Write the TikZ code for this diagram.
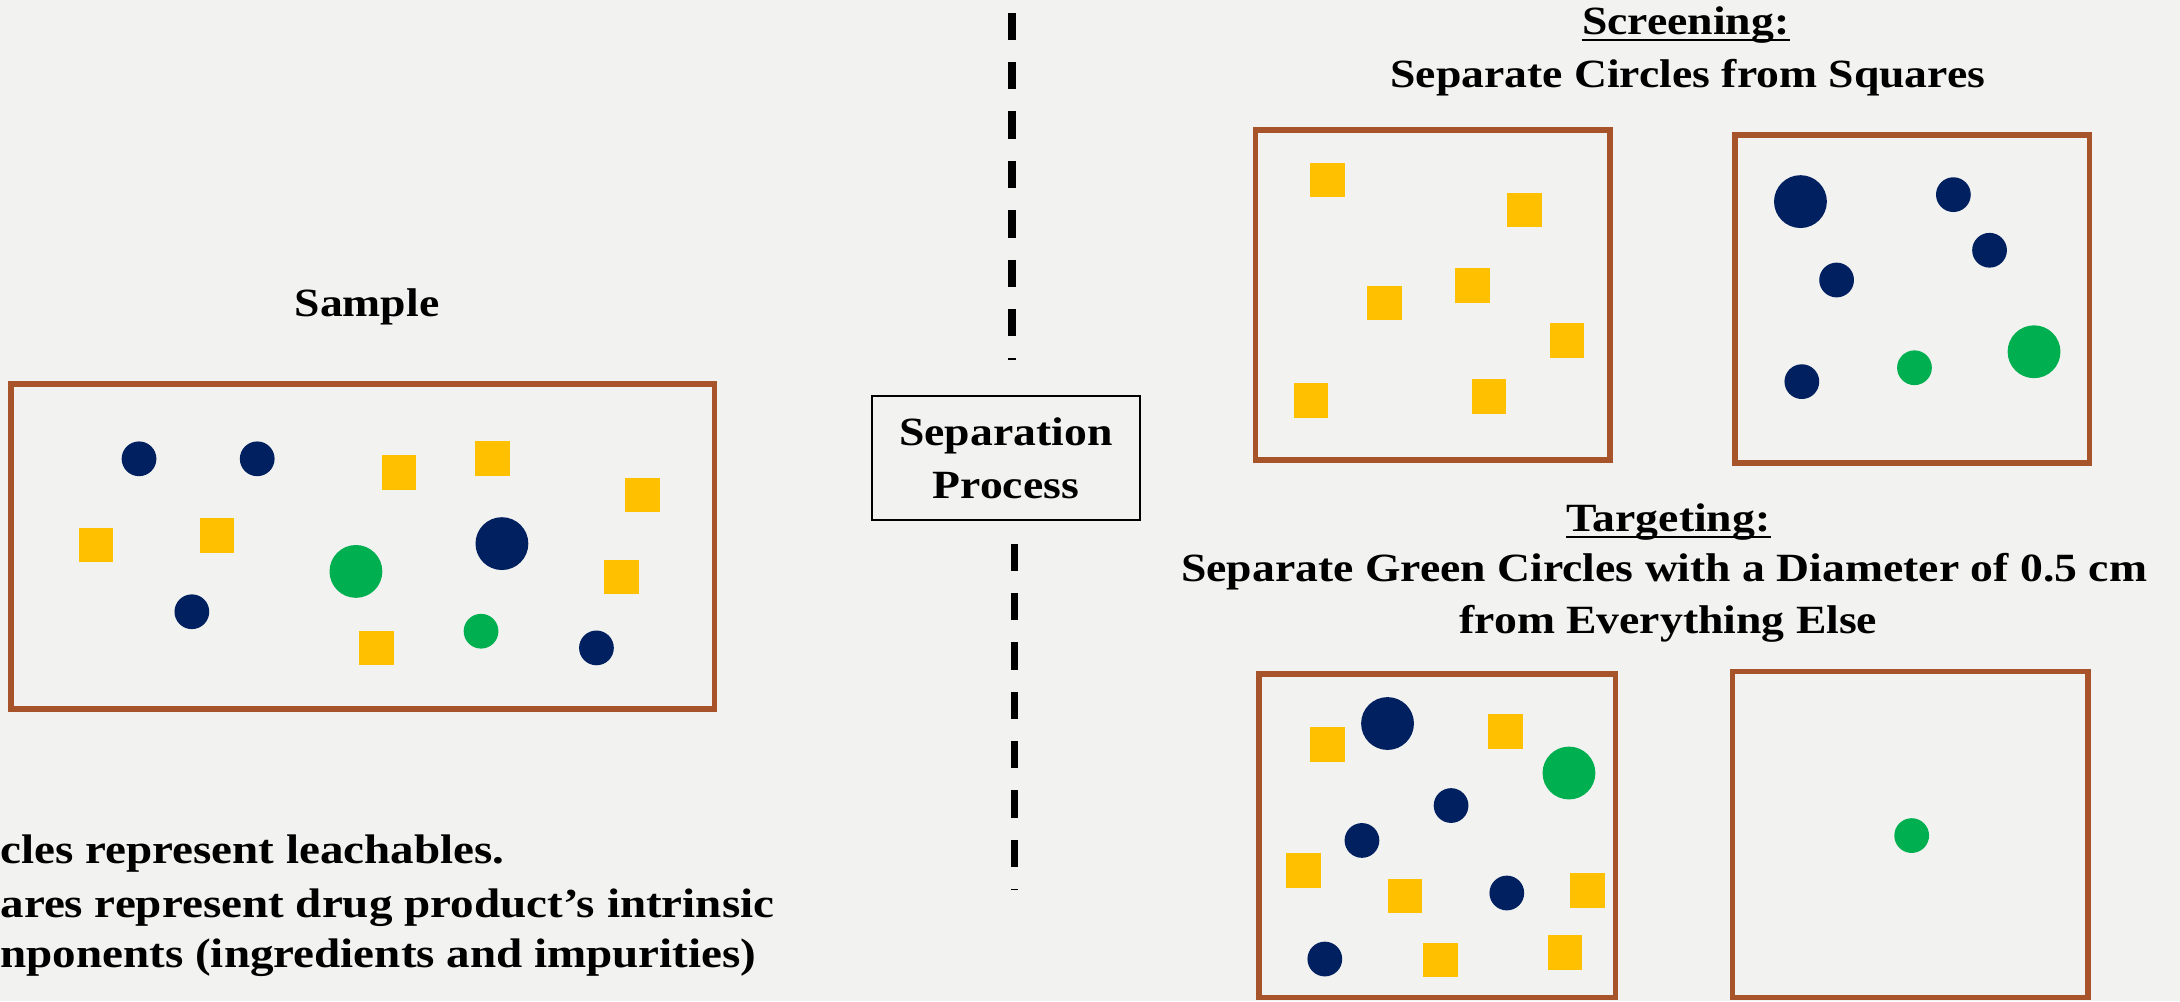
\documentclass[tikz,border=0pt]{standalone}
\usepackage{fontspec}
\setmainfont{Liberation Serif}[FakeStretch=1.14]
\definecolor{paper}{RGB}{242,242,240}
\definecolor{navyc}{RGB}{0,32,96}
\definecolor{greenc}{RGB}{0,176,80}
\definecolor{goldc}{RGB}{255,192,0}
\definecolor{brownc}{RGB}{168,84,42}
\newcommand\ysq[2]{\fill[goldc] (#1,#2) ++(-12.5,-12.5) rectangle ++(25,25);}
\newcommand\nsm[2]{\fill[navyc] (#1,#2) circle (12.5);}
\newcommand\nbg[2]{\fill[navyc] (#1,#2) circle (19);}
\newcommand\gsm[2]{\fill[greenc] (#1,#2) circle (12.5);}
\newcommand\gbg[2]{\fill[greenc] (#1,#2) circle (19);}
\tikzset{
  txt/.style={font=\fontsize{16.4}{21.5}\selectfont\bfseries, inner sep=0pt, anchor=base},
  txtl/.style={font=\fontsize{16.9}{21.5}\selectfont\bfseries, inner sep=0pt, anchor=base west},
  brownbox/.style={draw=brownc, line width=2.3pt},
  sepline/.style={draw=black, line width=3pt, dash pattern=on 11.2pt off 9pt},
  procbox/.style={draw=black, line width=1pt, minimum width=3.86cm, minimum height=1.78cm,
    align=center, inner sep=0pt, font=\fontsize{16.4}{21.5}\selectfont\bfseries},
  uline/.style={line width=0.9pt}
}
\begin{document}
\begin{tikzpicture}[x=0.02cm,y=-0.02cm]
\fill[paper] (0,0) rectangle (1568,720);
\useasboundingbox (0,0) rectangle (1568,720);

% ---- Sample ----
\node[txt] (sample) at (264,228) {Sample};
\draw[brownbox] (8,276) rectangle (514,510);
\nsm{100}{330}\nsm{185}{330}\nsm{138}{440}\nsm{429}{466}
\nbg{361}{391}
\gbg{256}{411}\gsm{346}{454}
\ysq{287}{340}\ysq{354}{330}\ysq{462}{356}\ysq{69}{392}\ysq{156}{385}\ysq{447}{415}\ysq{271}{466}

% legend text (cut at left edge)
\node[txtl] (leg1) at (0,621) {cles represent leachables.};
\node[txtl] (leg2) at (0,659.6) {ares represent drug product’s intrinsic};
\node[txtl] (leg3) at (0,696) {nponents (ingredients and impurities)};

% ---- Separation process ----
\node[procbox] (proc) at (723.5,329.5) {Separation\\Process};
\coordinate (dtopA) at (728,9.2);
\coordinate (dtopB) at (728,259);
\coordinate (dbotA) at (729.6,391);
\coordinate (dbotB) at (729.6,640);
\draw[sepline] (dtopA) -- (dtopB);
\draw[sepline] (dbotA) -- (dbotB);

% ---- Screening ----
\node[txt] (scr) at (1212.5,25) {Screening:};
\draw[uline] ([yshift=-2.3pt]scr.base west) -- ([yshift=-2.3pt]scr.base east);
\node[txt] (scr2) at (1214,62.8) {Separate Circles from Squares};
\draw[brownbox] (903,93.5) rectangle (1158,331);
\draw[brownbox] (1248,97) rectangle (1503,333);
\ysq{955}{129.5}\ysq{1096.5}{151}\ysq{1059}{205.5}\ysq{996}{218}\ysq{1127}{245}\ysq{943}{288}\ysq{1071}{285}
\nbg{1295}{145}
\nsm{1405}{140}\nsm{1431}{180}\nsm{1321}{201.4}\nsm{1296}{274.5}
\gsm{1377}{264.5}\gbg{1463}{253}

% ---- Targeting ----
\node[txt] (tar) at (1200,382) {Targeting:};
\draw[uline] ([yshift=-2.3pt]tar.base west) -- ([yshift=-2.3pt]tar.base east);
\node[txt] (tar2) at (1197,418) {Separate Green Circles with a Diameter of 0.5 cm};
\node[txt] (tar3) at (1200,456) {from Everything Else};
\draw[brownbox] (905.5,485) rectangle (1162,717.5);
\draw[brownbox] (1246,483) rectangle (1502,717.5);
\nbg{998}{520.4}
\ysq{955}{535.7}\ysq{1083}{526}
\gbg{1128.5}{556}
\nsm{1043.7}{579.4}\nsm{979.6}{604.5}
\ysq{937.7}{626}\ysq{1010.6}{644.5}
\nsm{1083.8}{642.3}
\ysq{1142}{640.4}
\nsm{952.9}{689.8}
\ysq{1036}{690.5}\ysq{1125.7}{685.3}
\gsm{1375}{601}
\end{tikzpicture}
\end{document}
